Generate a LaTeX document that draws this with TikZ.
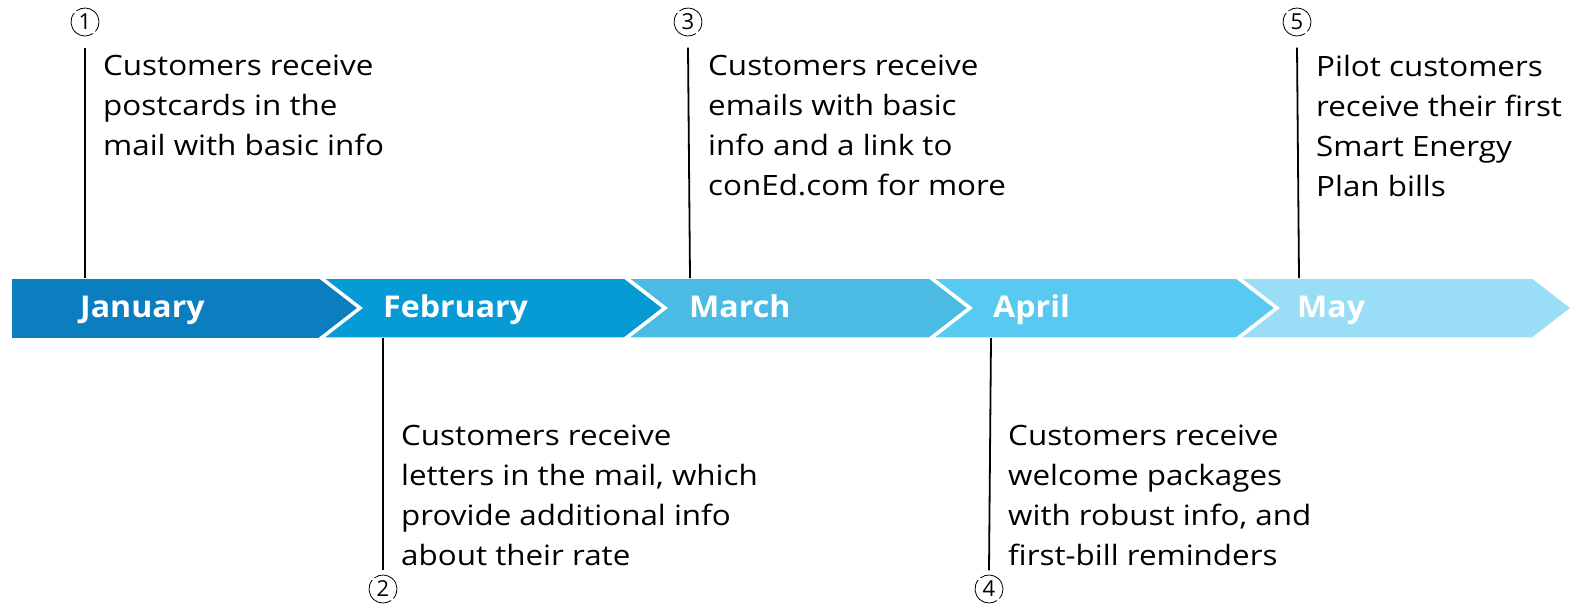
\documentclass[tikz,border=0pt]{standalone}
\usepackage{fontspec}
\setmainfont{Open Sans}[FakeStretch=1.12]
\newfontfamily\monthfont{Open Sans}[FakeStretch=1.07]
\newfontfamily\numfont{Open Sans}
\begin{document}
\begin{tikzpicture}[x=1pt,y=-1pt,
  seg/.style={draw=white,line width=3.5pt,line join=miter},
  month/.style={anchor=base west,text=white,font=\monthfont\fontsize{30}{36}\selectfont\bfseries,inner sep=0pt},
  note/.style={anchor=north west,align=left,inner sep=0pt,font=\fontsize{28}{40}\selectfont},
  num/.style={circle,inner sep=0pt,minimum size=29pt,font=\numfont\fontsize{22}{22}\selectfont},
  ring/.style={line width=0.8pt},
  stem/.style={line width=1.8pt}]
\useasboundingbox (0,0) rectangle (1573,611);
\definecolor{cJan}{RGB}{11,126,192}
\definecolor{cFeb}{RGB}{7,155,213}
\definecolor{cMar}{RGB}{76,187,227}
\definecolor{cApr}{RGB}{88,201,241}
\definecolor{cMay}{RGB}{154,221,247}
% chevron band
\fill[cJan] (12,277) -- (320,277) -- (360,308) -- (320,339) -- (12,339) -- cycle;
\filldraw[cFeb,seg] (320,277) -- (625,277) -- (665,308) -- (625,339) -- (320,339) -- (360,308) -- cycle;
\filldraw[cMar,seg] (625,277) -- (930,277) -- (970,308) -- (930,339) -- (625,339) -- (665,308) -- cycle;
\filldraw[cApr,seg] (930,277) -- (1237,277) -- (1277,308) -- (1237,339) -- (930,339) -- (970,308) -- cycle;
\filldraw[cMay,seg] (1237,277) -- (1533,277) -- (1573,308) -- (1533,339) -- (1237,339) -- (1277,308) -- cycle;
\fill[white] (0,274) rectangle (1573,278.5);
\fill[white] (0,337.5) rectangle (1573,342);
% month labels
\node[month] (jan) at (80,317) {January};
\node[month] (feb) at (383,317) {February};
\node[month] (mar) at (689,317) {March};
\node[month] (apr) at (993,317) {April};
\node[month] (may) at (1297,317) {May};
% anchor points on the band
\coordinate (t1) at (85,278);
\coordinate (t3) at (690,278);
\coordinate (t5) at (1299,278);
\coordinate (b2) at (383,338);
\coordinate (b4) at (991,338);
% numbered markers with slightly broken rings
\node[num] (n1) at (85,22) {1};
\node[num] (n3) at (688,22) {3};
\node[num] (n5) at (1297,22) {5};
\node[num] (n2) at (383,589) {2};
\node[num] (n4) at (989,589) {4};
\foreach \n in {n1,n2,n3,n4,n5}{
  \draw[ring] ([shift={(140:14pt)}]\n.center) arc[start angle=140,end angle=305,radius=14pt];
  \draw[ring] ([shift={(318:14pt)}]\n.center) arc[start angle=318,end angle=488,radius=14pt];
}
% stems
\draw[stem] ([yshift=-11pt]n1.south) -- (t1);
\draw[stem] ([yshift=-11pt]n3.south) -- (t3);
\draw[stem] ([yshift=-11pt]n5.south) -- (t5);
\draw[stem] ([yshift=4pt]n2.north) -- (b2);
\draw[stem] ([yshift=4pt]n4.north) -- (b4);
% notes
\node[note] (x1) at (103,55) {Customers receive\\postcards in the\\mail with basic info};
\node[note] (x3) at (708,55) {Customers receive\\emails with basic\\info and a link to\\conEd.com for more};
\node[note] (x5) at (1316,55) {Pilot customers\\receive their first\\Smart Energy\\Plan bills};
\node[note] (x2) at (401,425) {Customers receive\\letters in the mail, which\\provide additional info\\about their rate};
\node[note] (x4) at (1008,425) {Customers receive\\welcome packages\\with robust info, and\\first-bill reminders};
\end{tikzpicture}
\end{document}
